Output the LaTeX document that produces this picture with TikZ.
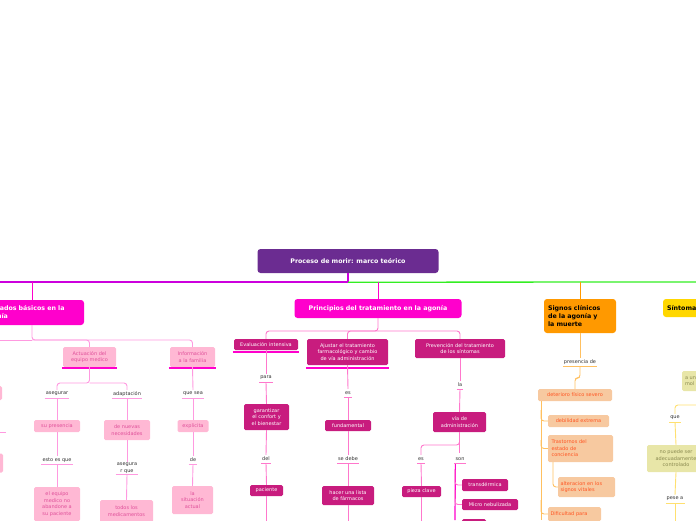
\documentclass[tikz,border=0pt]{standalone}
\usepackage{fontspec}
\setmainfont{DejaVu Sans}
\usetikzlibrary{positioning}
\definecolor{ttl}{HTML}{6B2C91}
\definecolor{mag}{HTML}{FF00CC}
\definecolor{pur}{HTML}{CC00DD}
\definecolor{grn}{HTML}{33EE22}
\definecolor{lpink}{HTML}{FFB8D4}
\definecolor{lpinktx}{HTML}{E0509A}
\definecolor{lpinkln}{HTML}{FF99E0}
\definecolor{dmag}{HTML}{C81C7E}
\definecolor{dmagln}{HTML}{FF77CC}
\definecolor{org}{HTML}{FF9900}
\definecolor{peach}{HTML}{F7C9A0}
\definecolor{peachtx}{HTML}{FF5522}
\definecolor{orgln}{HTML}{FFC060}
\definecolor{yel}{HTML}{FFD700}
\definecolor{khaki}{HTML}{E8E6A8}
\definecolor{khakitx}{HTML}{8A8A50}
\definecolor{yelln}{HTML}{FFE070}
\tikzset{
  every node/.style={inner sep=1pt, align=center},
  main/.style={rounded corners=3pt, font=\fontsize{6.3}{8}\selectfont\bfseries, text=white},
  pbox/.style={rounded corners=1.5pt, fill=lpink, text=lpinktx, font=\fontsize{5}{6.6}\selectfont},
  dbox/.style={rounded corners=1.5pt, fill=dmag, text=white, font=\fontsize{5}{6.6}\selectfont},
  obox/.style={rounded corners=1.5pt, fill=peach, text=peachtx, font=\fontsize{5}{6.6}\selectfont},
  ybox/.style={rounded corners=1.5pt, fill=khaki, text=khakitx, font=\fontsize{5}{6.6}\selectfont},
  lbl/.style={text=black!80, font=\fontsize{5}{6.6}\selectfont, minimum height=8},
  ln/.style={line width=0.9pt, rounded corners=3pt},
}
\begin{document}
\begin{tikzpicture}[x=1pt,y=-1pt]
\useasboundingbox (0,0) rectangle (696,520);
% title and main lines
\node[main, fill=ttl, minimum width=181, minimum height=24] (ttl) at (348,261) {Proceso de morir: marco teórico};
\coordinate (hl) at (0,282);
\coordinate (hr) at (696,282);
\draw[line width=1.3pt, draw=pur] (ttl.south) |- (hl);
\draw[line width=1.3pt, draw=grn] (ttl.south) ++(0,9) -- (hr);

% ---- Cuidados basicos
\node[main, fill=mag, minimum width=104, minimum height=25, align=left, text width=96] (cb) at (32,312.5) {Cuidados básicos en la\\agonía};
\node[pbox, minimum width=53, minimum height=20] (aem) at (89.5,357) {Actuación del\\equipo medico};
\node[pbox, minimum width=45, minimum height=20] (ifa) at (192.5,357) {Información\\a la familia};
\node[pbox, minimum width=22, minimum height=14] (lx1) at (-9,393) {};
\node[pbox, minimum width=22, minimum height=19] (lx2) at (-8,463) {};
\draw[ln, draw=mag] (32,282) -- (cb.north);
\draw[ln, draw=lpinkln] (cb.south) -- (32,340) -| (aem.north);
\draw[ln, draw=lpinkln] (32,340) -| (ifa.north);
\draw[ln, draw=lpinkln] (32,340) -- (0,340);
\draw[line width=2pt, draw=mag] (aem.south west) ++(-1,1) -- ++(55,0);
\draw[line width=2pt, draw=mag] (ifa.south west) ++(-1,1) -- ++(47,0);
\node[lbl] (ase) at (57,394) {asegurar};
\node[lbl] (ada) at (127,394) {adaptación};
\node[pbox, minimum width=46, minimum height=12] (spr) at (57,426) {su presencia};
\node[lbl] (eeq) at (57,460) {esto es que};
\node[pbox, minimum width=46, minimum height=34] (eqm) at (57,504) {el equipo\\medico no\\abandone a\\su paciente};
\node[pbox, minimum width=46, minimum height=20] (dnn) at (127,430) {de nuevas\\necesidades};
\node[lbl] (asq) at (127,468) {asegura\\r que};
\node[pbox, minimum width=53, minimum height=22] (tlm) at (126.5,511) {todos los\\medicamentos};
\node[lbl] (qse) at (193,394) {que sea};
\node[pbox, minimum width=31, minimum height=12] (exp) at (193,426) {explicita};
\node[lbl] (de) at (193,460) {de};
\node[pbox, minimum width=41, minimum height=28] (lsa) at (192.5,500) {la\\situación\\actual};
\draw[ln, draw=lpinkln] (aem.south) -- (89.5,383) -| (ase.north);
\draw[ln, draw=lpinkln] (89.5,383) -| (ada.north);
\foreach \a/\b in {ase/spr, spr/eeq, eeq/eqm, ada/dnn, dnn/asq, asq/tlm, ifa/qse, qse/exp, exp/de, de/lsa}
  \draw[ln, draw=lpinkln] (\a.south) -- (\b.north);
\foreach \n in {ase, ada, eeq, asq, qse, de}
  \draw[line width=1pt, draw=lpinkln] (\n.south west) -- (\n.south east);
\draw[line width=1pt, draw=lpinkln] (0,432) -- (6,432);

% ---- Principios del tratamiento
\node[main, fill=mag, minimum width=167, minimum height=19] (pt) at (378,308.5) {Principios del tratamiento en la agonía};
\node[dbox, minimum width=64, minimum height=11] (evi) at (266,344.5) {Evaluación intensiva};
\node[dbox, minimum width=81, minimum height=26] (ajt) at (347.5,352) {Ajustar el tratamiento\\farmacológico y cambio\\de vía administración};
\node[dbox, minimum width=90, minimum height=19] (pvs) at (460,348.5) {Prevención del tratamiento\\de los síntomas};
\draw[ln, draw=mag] (378,282) -- (pt.north);
\draw[ln, draw=dmagln] (pt.south) -- (378,331) -| (evi.north);
\draw[ln, draw=dmagln] (378,331) -| (ajt.north);
\draw[ln, draw=dmagln] (378,331) -| (pvs.north);
\draw[line width=2pt, draw=mag] (evi.south west) ++(-1,1.5) -- ++(66,0);
\draw[line width=2pt, draw=mag] (ajt.south west) ++(-1,2.5) -- ++(83,0);
\node[lbl] (par) at (266,378) {para};
\node[dbox, minimum width=45, minimum height=26] (gcb) at (266.5,417) {garantizar\\el confort y\\el bienestar};
\node[lbl] (del) at (266,459) {del};
\node[dbox, minimum width=33, minimum height=11] (pac) at (266.5,490.5) {paciente};
\node[lbl] (es1) at (348,393) {es};
\node[dbox, minimum width=46, minimum height=11] (fun) at (348,425.5) {fundamental};
\node[lbl] (sdb) at (348,459) {se debe};
\node[dbox, minimum width=52, minimum height=19] (hlf) at (348,495.5) {hacer una lista\\de fármacos};
\node[lbl] (la) at (460,385) {la};
\node[dbox, minimum width=53, minimum height=20] (vad) at (459.5,422) {vía de\\administración};
\node[lbl] (es2) at (421,459) {es};
\node[lbl] (son) at (460,459) {son};
\node[dbox, minimum width=39, minimum height=11] (pcl) at (421.5,491.5) {pieza clave};
\node[dbox, minimum width=46, minimum height=12] (trd) at (485,485) {transdérmica};
\node[dbox, minimum width=56, minimum height=11] (mnb) at (490,504.5) {Micro nebulizada};
\node[dbox, minimum width=24, minimum height=10] (ot) at (474,524) {};
\foreach \a/\b in {evi/par, par/gcb, gcb/del, del/pac, ajt/es1, es1/fun, fun/sdb, sdb/hlf, pvs/la, la/vad, es2/pcl}
  \draw[ln, draw=dmagln] (\a.south) -- (\b.north);
\draw[ln, draw=dmagln] (pac.south) -- ++(0,30);
\draw[ln, draw=dmagln] (hlf.south) -- ++(0,20);
\draw[ln, draw=dmagln] (pcl.south) -- ++(0,30);
\draw[ln, draw=dmagln] (vad.south) -- (459.5,445) -| (es2.north);
\draw[ln, draw=dmagln] (vad.south) -- (459.5,453);
\coordinate (sonb) at (455,520);
\draw[line width=1.2pt, draw=mag] (son.south west) ++(1,0) -- (sonb);
\draw[ln, draw=dmagln] (455,470) |- (trd.west);
\draw[ln, draw=dmagln] (455,490) |- (mnb.west);
\foreach \n in {par, del, es1, sdb, la, es2, son}
  \draw[line width=1pt, draw=dmagln] (\n.south west) -- (\n.south east);

% ---- Signos clinicos
\node[main, fill=org, text=black, minimum width=72, minimum height=34, align=left, text width=64] (sc) at (580,316) {Signos clínicos\\de la agonía y\\la muerte};
\draw[ln, draw=org] (580,282) -- (sc.north);
\node[lbl] (pde) at (580,362) {presencia de};
\node[obox, minimum width=74, minimum height=12] (dfs) at (575,395) {deterioro físico severo};
\node[obox, minimum width=61, minimum height=12] (dex) at (578.5,421) {debilidad extrema};
\node[obox, minimum width=65, minimum height=27, align=left, text width=58] (tec) at (580.5,448.5) {Trastornos del\\estado de\\conciencia};
\node[obox, minimum width=57, minimum height=20, align=left, text width=52] (asv) at (586.5,487) {alteracion en los\\signos vitales};
\node[obox, minimum width=53, minimum height=14, align=left, text width=48] (dpa) at (574.5,514) {Dificultad para};
\draw[ln, draw=orgln] (sc.south) -- (pde.north);
\draw[ln, draw=orgln] (pde.south) -- (580,378) -| (575,389);
\draw[line width=1pt, draw=orgln] (pde.south west) -- (pde.south east);
\draw[ln, draw=orgln] (541,401) -- (541,520);
\draw[ln, draw=orgln] (541,410) |- (dex.west);
\draw[ln, draw=orgln] (541,440) |- (tec.west);
\draw[ln, draw=orgln] (541,500) |- (dpa.west);
\draw[ln, draw=orgln] (553,462) |- (asv.west);

% ---- Sintomas
\node[main, fill=yel, text=black, minimum width=60, minimum height=18, align=left, text width=52] (sin) at (693,308) {Síntomas};
\node[lbl] (s1) at (700,345) {s};
\node[ybox, minimum width=40, minimum height=20, align=left, text width=34] (aum) at (702,381) {a un\\mol};
\node[lbl] (que) at (675,418) {que};
\node[ybox, minimum width=58, minimum height=27] (npc) at (676,458.5) {no puede ser\\adecuadamente\\controlado};
\node[lbl] (pes) at (675,499) {pese a};
\draw[ln, draw=yelln] (696,405) -| (que.north);
\foreach \a/\b in {que/npc, npc/pes}
  \draw[ln, draw=yelln] (\a.south) -- (\b.north);
\draw[ln, draw=yelln] (pes.south) -- ++(0,20);
\foreach \n in {s1, que, pes}
  \draw[line width=1pt, draw=yelln] (\n.south west) -- (\n.south east);
\end{tikzpicture}
\end{document}
